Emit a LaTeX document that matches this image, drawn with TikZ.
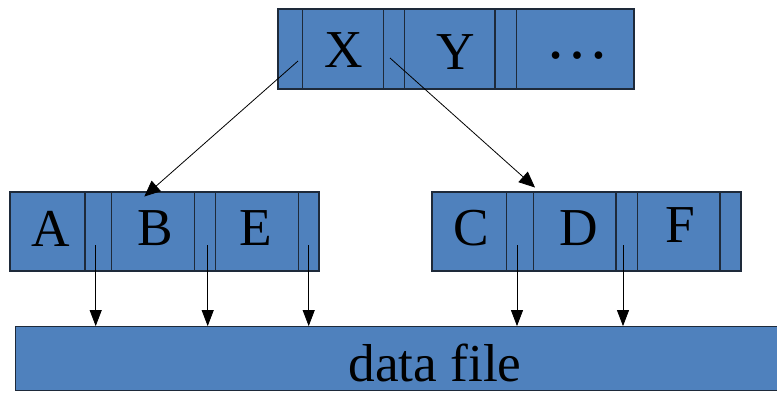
\documentclass[tikz,border=0pt]{standalone}
\usepackage{fontspec}
\setmainfont{Liberation Serif}
\usetikzlibrary{arrows.meta}
\definecolor{cellblue}{HTML}{4F81BD}
\definecolor{celledge}{HTML}{1E2A3A}
\tikzset{
  block/.style={draw=celledge, fill=cellblue, line width=0.9pt, inner sep=0pt, rectangle},
  divider/.style={draw=celledge, line width=0.9pt},
  keytext/.style={inner sep=0pt, anchor=base, font=\fontsize{40}{40}\selectfont},
  ptr/.style={draw=black, line width=0.6pt},
  bigtip/.style={-{Triangle[length=12pt,width=10.5pt]}},
  smalltip/.style={-{Triangle[length=12pt,width=9pt]}}
}
\begin{document}
\begin{tikzpicture}[x=0.75pt,y=-0.75pt]
\useasboundingbox (0,0) rectangle (777,394);
\clip (0,0) rectangle (777,394);

% root node of the index
\node[block, minimum width=267pt, minimum height=60pt] (root) at (456,49) {};
\foreach \xx in {302.7,383.3,404.3,495,516.7}
  \draw[divider] (\xx,9) -- (\xx,89);
\node[keytext] (kx) at (343.5,67) {X};
\node[keytext] (ky) at (455.3,69.5) {Y};
\node[inner sep=0pt, anchor=base, font=\fontsize{48}{48}\selectfont] (kdots) at (577.8,58.5) {…};

% left leaf
\node[block, minimum width=231.75pt, minimum height=59.25pt] (leafL) at (164.5,231.5) {};
\foreach \xx in {85,111.7,194.3,215.7,298.3}
  \draw[divider] (\xx,192) -- (\xx,271);
\node[keytext] (ka) at (51,246.5) {A};
\node[keytext] (kb) at (155.5,245.7) {B};
\node[keytext] (ke) at (255.8,245.7) {E};

% right leaf
\node[block, minimum width=231.75pt, minimum height=59.25pt] (leafR) at (586.5,231.5) {};
\foreach \xx in {506.7,533.3,616,637.3,720}
  \draw[divider] (\xx,192) -- (\xx,271);
\node[keytext] (kc) at (471,245.5) {C};
\node[keytext] (kd) at (578.3,245.7) {D};
\node[keytext] (kf) at (680.7,242.7) {F};

% data file
\node[block, minimum width=592pt, minimum height=48pt] (data) at (410,358.7) {};
\node[keytext] (dtext) at (435,381.7) {data file};

% child pointers of the root
\coordinate (px) at (298,61);
\coordinate (py) at (390,58);
\coordinate (tipL) at (144.3,196.5);
\coordinate (tipR) at (535,187.5);
\draw[ptr, bigtip] (px) -- (tipL);
\draw[ptr, bigtip] (py) -- (tipR);

% record pointers of the leaves
\foreach \name/\xx in {pa/95.7,pb/207.7,pe/308.7,pc/517,pd/623}{
  \coordinate (\name) at (\xx,245);
  \draw[ptr, smalltip] (\name) -- (\name |- data.north);
}
\end{tikzpicture}
\end{document}
